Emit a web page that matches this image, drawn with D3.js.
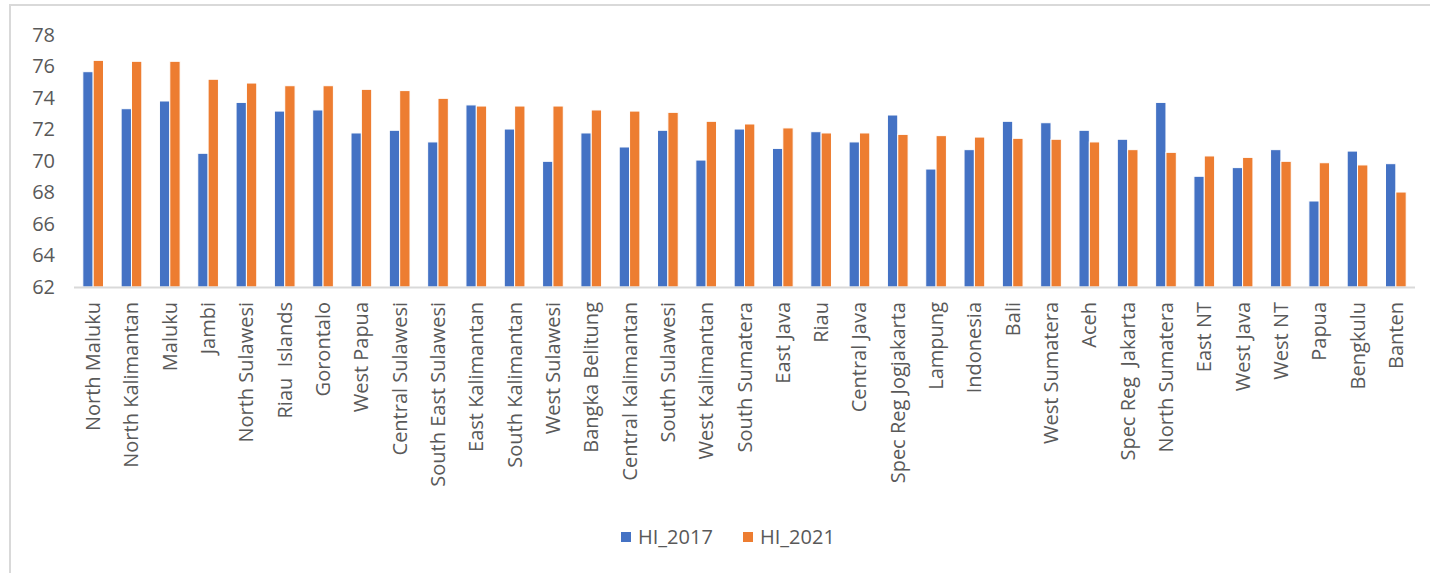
<!DOCTYPE html>
<html>
<head>
<meta charset="utf-8">
<script src="https://cdn.jsdelivr.net/npm/d3@7/dist/d3.min.js"></script>
<style>
  body { margin: 0; background: #fff; }
  svg text { font-family: "Open Sans", sans-serif; fill: #595959; }
</style>
</head>
<body>
<div id="chart"></div>
<script>
// data
var provinces = ["North Maluku","North Kalimantan","Maluku","Jambi","North Sulawesi","Riau  Islands",
	"Gorontalo","West Papua","Central Sulawesi","South East Sulawesi","East Kalimantan","South Kalimantan",
	"West Sulawesi","Bangka Belitung","Central Kalimantan","South Sulawesi","West Kalimantan","South Sumatera",
	"East Java","Riau","Central Java","Spec Reg Jogjakarta","Lampung","Indonesia","Bali","West Sumatera",
	"Aceh","Spec Reg  Jakarta","North Sumatera","East NT","West Java","West NT","Papua","Bengkulu","Banten"];
var hi2017 = [75.67,73.32,73.81,70.49,73.72,73.17,73.24,71.78,71.95,71.21,73.56,72.03,
	69.98,71.78,70.89,71.95,70.06,72.03,70.80,71.86,71.21,72.92,69.49,70.72,72.52,72.43,
	71.95,71.38,73.72,69.03,69.58,70.72,67.46,70.63,69.83];
var hi2021 = [76.39,76.33,76.33,75.19,74.95,74.78,74.78,74.55,74.47,73.98,73.49,73.49,
	73.49,73.24,73.17,73.09,72.52,72.35,72.10,71.78,71.78,71.69,71.61,71.52,71.44,71.38,
	71.21,70.72,70.55,70.32,70.23,69.98,69.89,69.75,68.03];
var seriesNames = ["HI_2017","HI_2021"];
var seriesColors = ["#4472c4","#ed7d31"];
var yTicks = [62,64,66,68,70,72,74,76,78];

var width = 1430, height = 573;
var plotLeft = 74, plotRight = 1415, plotTop = 35, plotBottom = 287;

var svg = d3.select("#chart").append("svg")
	.attr("width", width)
	.attr("height", height);

// frame lines (top and left edge of the chart box)
svg.append("line").attr("x1",10).attr("y1",5).attr("x2",width).attr("y2",5)
	.attr("stroke","#d9d9d9").attr("stroke-width",2);
svg.append("line").attr("x1",10).attr("y1",4).attr("x2",10).attr("y2",height)
	.attr("stroke","#d9d9d9").attr("stroke-width",2);

var x0 = d3.scaleBand().domain(provinces).range([plotLeft, plotRight])
	.paddingInner(0.46).paddingOuter(0.23);
var x1 = d3.scaleBand().domain(seriesNames).range([0, x0.bandwidth()]).padding(0);
var y = d3.scaleLinear().domain([62,78]).range([plotBottom, plotTop]);

// y axis labels, no axis line
var yAxis = svg.append("g").attr("transform","translate(55,0)")
	.call(d3.axisLeft(y).tickValues(yTicks).tickSize(0).tickPadding(0));
yAxis.select(".domain").remove();
yAxis.selectAll("text").style("font-size","20px").style("font-family","'Open Sans', sans-serif").attr("fill","#595959");

var rows = provinces.map(function(p,i){ return {name:p, vals:[hi2017[i], hi2021[i]]}; });

var groups = svg.selectAll("g.cat").data(rows).enter().append("g")
	.attr("class","cat")
	.attr("transform", function(d){ return "translate(" + x0(d.name) + ",0)"; });

groups.selectAll("rect").data(function(d){
		return d.vals.map(function(v,k){ return {key:seriesNames[k], v:v, k:k}; });
	}).enter().append("rect")
	.attr("x", function(d){ return x1(d.key); })
	.attr("y", function(d){ return y(d.v); })
	.attr("width", x1.bandwidth())
	.attr("height", function(d){ return y(62) - y(d.v); })
	.attr("fill", function(d){ return seriesColors[d.k]; })
	.attr("stroke","#fff")
	.attr("stroke-width",1);

// baseline
svg.append("line").attr("x1",plotLeft).attr("x2",plotRight).attr("y1",plotBottom+0.5).attr("y2",plotBottom+0.5)
	.attr("stroke","#d9d9d9").attr("stroke-width",2);

// category labels rotated
svg.selectAll("text.cat").data(provinces).enter().append("text")
	.attr("class","cat")
	.attr("transform", function(d){ return "translate(" + (x0(d) + x0.bandwidth()/2) + ",302) rotate(-90)"; })
	.attr("text-anchor","end")
	.attr("dy","0.35em")
	.style("font-size","20px")
	.style("white-space","pre")
	.text(function(d){ return d; });

// legend
var legend = svg.append("g").attr("transform","translate(621,537)");
var lx = [0, 122];
seriesNames.forEach(function(s,k){
	legend.append("rect").attr("x",lx[k]).attr("y",-5).attr("width",10).attr("height",10)
		.attr("fill",seriesColors[k]);
	legend.append("text").attr("x",lx[k]+17).attr("y",0).attr("dy","0.35em")
		.style("font-size","20px").text(s);
});
</script>
</body>
</html>
